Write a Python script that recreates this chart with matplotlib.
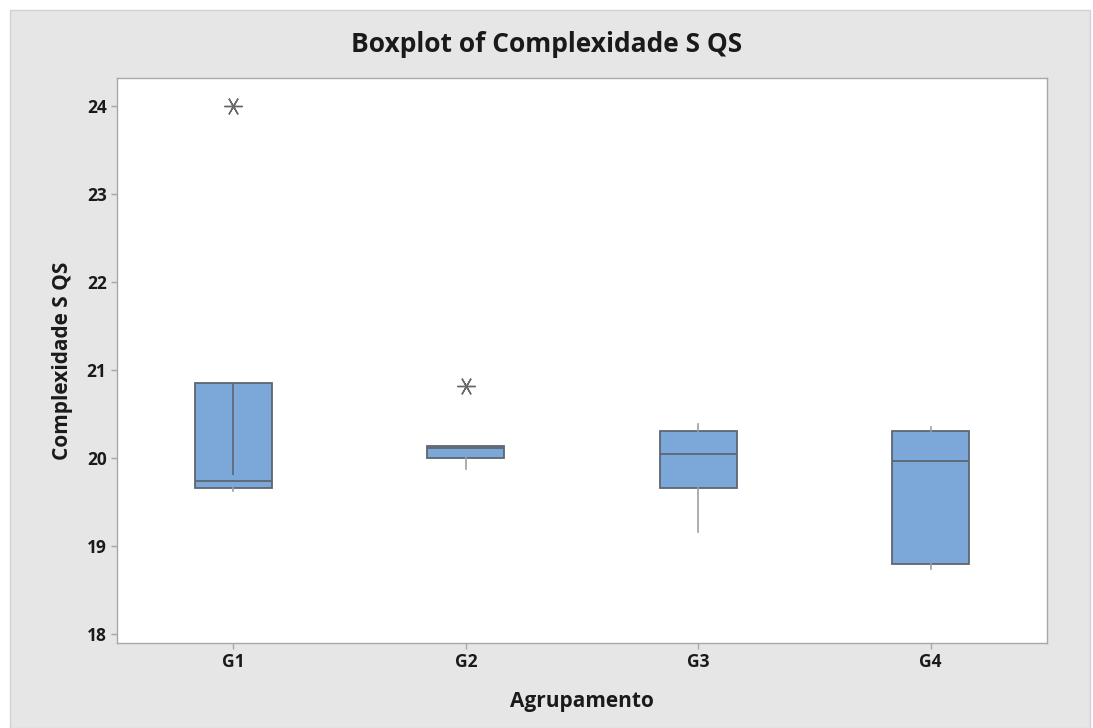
import matplotlib.pyplot as plt
from matplotlib.patches import Rectangle

plt.rcParams['font.family'] = ['Open Sans', 'DejaVu Sans']

groups = ['G1', 'G2', 'G3', 'G4']
q1 = [19.66, 20.00, 19.66, 18.80]
median = [19.74, 20.12, 20.045, 19.97]
q3 = [20.86, 20.14, 20.31, 20.31]
whis_low = [19.63, 19.88, 19.16, 18.74]
whis_high = [20.86, 20.14, 20.39, 20.36]
outliers = [[24.0], [20.82], [], []]
# G1 has a line drawn inside the box from Q3 down to this value
inner_line_low = [19.81, None, None, None]

stats = []
for i, g in enumerate(groups):
    stats.append(dict(label=g, q1=q1[i], med=median[i], q3=q3[i],
                      whislo=whis_low[i], whishi=whis_high[i],
                      fliers=outliers[i]))

fig = plt.figure(figsize=(10.93, 7.28), dpi=100)
fig.patch.set_facecolor('white')
bg = Rectangle((10 / 1093, 0), 1 - 13 / 1093, 1 - 10 / 728,
               transform=fig.transFigure, facecolor='#e6e6e6',
               edgecolor='#d2d2d2', lw=1, zorder=-10)
fig.add_artist(bg)

ax = fig.add_axes([117 / 1093, 1 - 643 / 728, 930 / 1093, 565 / 728])
ax.set_zorder(1)
ax.set_facecolor('white')

pos = [1, 2, 3, 4]
ax.bxp(stats, positions=pos, widths=0.33, patch_artist=True, showcaps=False,
       boxprops=dict(facecolor='#7ba7d9', edgecolor='#5f6670', lw=1.3),
       medianprops=dict(color='#5f6670', lw=1.3),
       whiskerprops=dict(color='#a0a0a0', lw=1.2),
       flierprops=dict(marker=(6, 2, 90), markersize=13, markeredgecolor='#666666',
                       markeredgewidth=1.0, linestyle='none'))

for i, lo in enumerate(inner_line_low):
    if lo is not None:
        ax.vlines(pos[i], lo, q3[i], color='#5f6670', lw=1.2, zorder=3)

ax.set_xlim(0.5, 4.5)
ax.set_ylim(17.9, 24.32)
ax.set_yticks([18, 19, 20, 21, 22, 23, 24])
ax.set_xticks(pos)
ax.set_xticklabels(groups)

for s in ax.spines.values():
    s.set_color('#a8a8a8')
    s.set_linewidth(1.0)
ax.tick_params(axis='both', colors='#a8a8a8', labelcolor='#1a1a1a',
               labelsize=12.5, length=4, width=1)
for lbl in ax.get_xticklabels() + ax.get_yticklabels():
    lbl.set_fontweight('bold')

ax.set_xlabel('Agrupamento', fontsize=15, fontweight='bold', color='#1a1a1a', labelpad=14)
ax.set_ylabel('Complexidade S QS', fontsize=15, fontweight='bold', color='#1a1a1a', labelpad=10)
fig.text(0.5, 1 - 45 / 728, 'Boxplot of Complexidade S QS', ha='center', va='center',
         fontsize=19, fontweight='bold', color='#1a1a1a')

fig.savefig('out.png', dpi=100)
